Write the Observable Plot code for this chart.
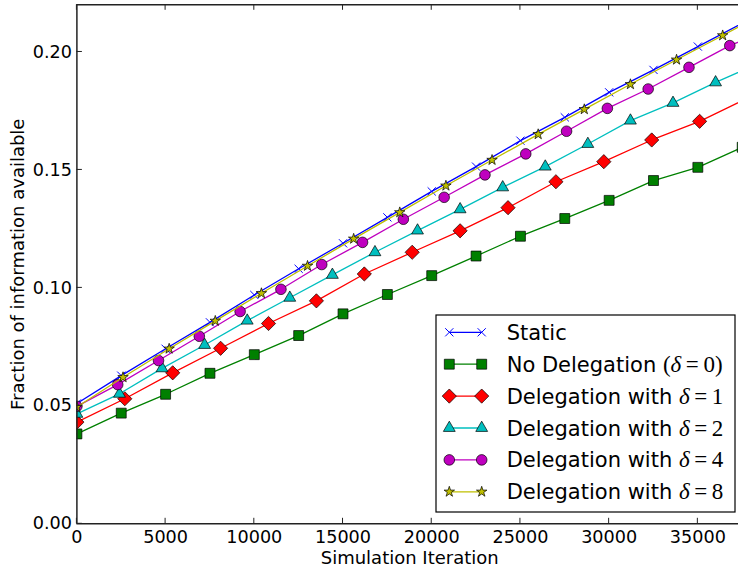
<!DOCTYPE html>
<html><head><meta charset="utf-8">
<script src="https://cdn.jsdelivr.net/npm/d3@7"></script>
<script src="https://cdn.jsdelivr.net/npm/@observablehq/plot@0.6"></script>
<style>
html,body{margin:0;padding:0;background:#fff;}
#chart{width:738px;height:569px;overflow:hidden;position:relative;}
</style></head><body><div id="chart"></div>
<script>
// ---- data ----
const iterStatic = [0,2500,5000,7500,10000,12500,15000,17500,20000,22500,25000,27500,30000,32500,35000,37500];
const valStatic  = [0.0510,0.0628,0.0742,0.0854,0.0970,0.1081,0.1189,0.1299,0.1409,0.1514,0.1624,0.1723,0.1829,0.1924,0.2023,0.2122];

const iterD0 = [0,2500,5000,7500,10000,12500,15000,17500,20000,22500,25000,27500,30000,32500,35000,37500];
const valD0  = [0.0381,0.0469,0.0549,0.0638,0.0717,0.0798,0.0890,0.0972,0.1052,0.1135,0.1219,0.1294,0.1371,0.1455,0.1511,0.1596];

const iterD1 = [0,2700,5400,8100,10800,13500,16200,18900,21600,24300,27000,29700,32400,35100];
const valD1  = [0.0431,0.0530,0.0640,0.0744,0.0849,0.0945,0.1059,0.1151,0.1242,0.1340,0.1450,0.1535,0.1627,0.1706];

const iterD2 = [0,2400,4800,7200,9600,12000,14400,16800,19200,21600,24000,26400,28800,31200,33600,36000];
const valD2  = [0.0466,0.0551,0.0659,0.0758,0.0861,0.0958,0.1055,0.1151,0.1243,0.1333,0.1426,0.1514,0.1610,0.1709,0.1784,0.1871];

const iterD4 = [0,2300,4600,6900,9200,11500,13800,16100,18400,20700,23000,25300,27600,29900,32200,34500,36800];
const valD4  = [0.0498,0.0590,0.0692,0.0795,0.0900,0.0994,0.1099,0.1193,0.1291,0.1384,0.1479,0.1568,0.1664,0.1761,0.1843,0.1935,0.2027];

const iterD8 = [0,2600,5200,7800,10400,13000,15600,18200,20800,23400,26000,28600,31200,33800,36400];
const valD8  = [0.0495,0.0621,0.0742,0.0860,0.0977,0.1093,0.1208,0.1320,0.1433,0.1542,0.1651,0.1757,0.1863,0.1967,0.2070];

// line ends (last iteration, no marker)
const endIter = 37500;
const endD1 = 0.1793, endD2 = 0.1921, endD4 = 0.2049, endD8 = 0.2115;

const xTicks = [0,5000,10000,15000,20000,25000,30000,35000];
const yTicks = [0,0.05,0.10,0.15,0.20];

const labels = ["Static","No Delegation ","Delegation with ","Delegation with ","Delegation with ","Delegation with "];
const mathLabels = [null,"0","1","2","4","8"];
const colors = ["#0000ff","#008000","#ff0000","#00bfbf","#bf00bf","#bfbf00"];
const symbols = ["times","square","diamond2","triangle","circle","star"];
const radii = [3.8,5.6,6.4,4.4,5.3,3.3];

// ---- build tables ----
const series = [
  {m: iterStatic.map((x,i)=>({x,y:valStatic[i]})), tail: null},
  {m: iterD0.map((x,i)=>({x,y:valD0[i]})), tail: null},
  {m: iterD1.map((x,i)=>({x,y:valD1[i]})), tail: {x:endIter,y:endD1}},
  {m: iterD2.map((x,i)=>({x,y:valD2[i]})), tail: {x:endIter,y:endD2}},
  {m: iterD4.map((x,i)=>({x,y:valD4[i]})), tail: {x:endIter,y:endD4}},
  {m: iterD8.map((x,i)=>({x,y:valD8[i]})), tail: {x:endIter,y:endD8}},
];

const marks = [];
series.forEach((s,k)=>{
  const line = s.tail ? s.m.concat([s.tail]) : s.m;
  marks.push(Plot.line(line,{x:"x",y:"y",stroke:colors[k],strokeWidth:1.3,clip:true}));
  if (symbols[k]==="times") {
    marks.push(Plot.dot(s.m,{x:"x",y:"y",symbol:"times",r:radii[k],stroke:colors[k],strokeWidth:1,fill:"none",clip:true}));
  } else {
    marks.push(Plot.dot(s.m,{x:"x",y:"y",symbol:symbols[k],r:radii[k],fill:colors[k],stroke:"#000",strokeWidth:0.7,clip:true}));
  }
});

const FONT = "DejaVu Sans, Bitstream Vera Sans, sans-serif";
const chart = Plot.plot({
  width: 738, height: 569,
  marginLeft: 76.4, marginRight: 0, marginTop: 4.3, marginBottom: 45.7,
  style: {fontFamily: FONT, background: "#fff", color: "#000"},
  x: {domain: [0, 37500], range: [76.4, 741.7]},
  y: {domain: [0, 0.22]},
  marks: [
    ...marks,
    Plot.ruleY([0.22],{stroke:"#222",strokeWidth:1.5}),
    Plot.ruleY([0],{stroke:"#222",strokeWidth:1.5}),
    Plot.ruleX([0],{stroke:"#222",strokeWidth:1.5}),
    Plot.axisX(xTicks,{tickSize:0,tickPadding:7,tickFormat:d3.format("d"),fontSize:17.6,label:null}),
    Plot.axisY(yTicks,{tickSize:0,tickPadding:5,tickFormat:d3.format(".2f"),fontSize:17.6,label:null}),
    Plot.text(["Simulation Iteration"],{frameAnchor:"bottom",dy:34,dx:2,fontSize:18,textAnchor:"middle",lineAnchor:"middle",text:d=>d}),
    Plot.text(["Fraction of information available"],{frameAnchor:"left",dx:-58.4,rotate:-90,fontSize:18,textAnchor:"middle",lineAnchor:"middle",text:d=>d})
  ]
});
document.getElementById("chart").appendChild(chart);

// ---- inward ticks using the plot's scales ----
const svg = d3.select(chart);
const sxd = chart.scale("x"), syd = chart.scale("y");
const sx = sxd.apply ? (v)=>sxd.apply(v) : d3.scaleLinear(sxd.domain, sxd.range);
const sy = syd.apply ? (v)=>syd.apply(v) : d3.scaleLinear(syd.domain, syd.range);
const tl = 5.5;
const gt = svg.append("g").attr("stroke","#222").attr("stroke-width",1);
const yBot = sy(0), yTop = sy(0.22), xLeft = sx(0);
xTicks.forEach(t=>{
  const X = sx(t);
  gt.append("line").attr("x1",X).attr("x2",X).attr("y1",yBot).attr("y2",yBot-tl);
  gt.append("line").attr("x1",X).attr("x2",X).attr("y1",yTop).attr("y2",yTop+tl);
});
yTicks.forEach(t=>{
  const Y = sy(t);
  gt.append("line").attr("x1",xLeft).attr("x2",xLeft+tl).attr("y1",Y).attr("y2",Y);
});

// ---- legend ----
const lg = svg.append("g").attr("text-anchor","start");
lg.append("rect").attr("x",436).attr("y",315).attr("width",299).attr("height",197)
  .attr("fill","#fff").attr("stroke","#000").attr("stroke-width",1.2);
const symMap = {times:d3.symbolTimes,square:d3.symbolSquare,diamond2:d3.symbolDiamond2,triangle:d3.symbolTriangle,circle:d3.symbolCircle,star:d3.symbolStar};
labels.forEach((lab,k)=>{
  const cy = 332.3 + k*31.9;
  lg.append("line").attr("x1",449.3).attr("x2",481.7).attr("y1",cy).attr("y2",cy)
    .attr("stroke",colors[k]).attr("stroke-width",1.3);
  const path = d3.symbol(symMap[symbols[k]], Math.PI*radii[k]*radii[k])();
  [449.3,481.7].forEach(px=>{
    const p = lg.append("path").attr("d",path).attr("transform",`translate(${px},${cy})`);
    if (symbols[k]==="times") p.attr("fill","none").attr("stroke",colors[k]).attr("stroke-width",1);
    else p.attr("fill",colors[k]).attr("stroke","#000").attr("stroke-width",0.7);
  });
  const t = lg.append("text").attr("x",506.7).attr("y",cy+7.5).attr("text-anchor","start")
    .attr("font-family",FONT).attr("font-size",21).attr("fill","#000");
  t.append("tspan").text(lab);
  if (mathLabels[k]!==null) {
    const serif = "Liberation Serif, DejaVu Serif, serif";
    if (k===1) t.append("tspan").attr("font-family",serif).attr("font-size",23).text("(");
    t.append("tspan").attr("font-family",serif).attr("font-style","italic").attr("font-size",23).text("δ");
    t.append("tspan").attr("font-family",serif).attr("font-size",23).text("\u2009=\u2009"+mathLabels[k]);
    if (k===1) t.append("tspan").attr("font-family",serif).attr("font-size",23).text(")");
  }
});
</script>
</body></html>
